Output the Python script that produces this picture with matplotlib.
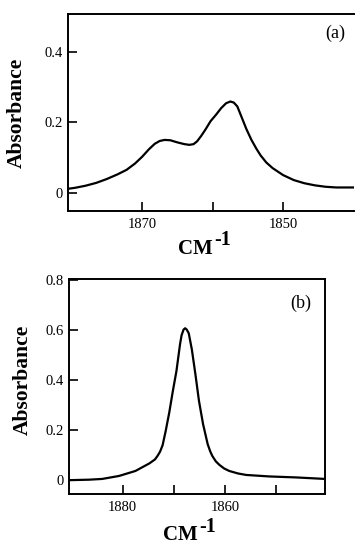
import matplotlib
matplotlib.use("Agg")
import matplotlib.pyplot as plt
from matplotlib.ticker import FixedLocator, NullFormatter

plt.rcParams['font.family'] = ['Liberation Serif', 'DejaVu Serif']

# panel (a) spectrum
wn_a = [1880.6, 1879.5, 1878.0, 1876.5, 1875.0, 1873.5, 1872.2, 1871.0, 1870.0,
        1869.0, 1868.2, 1867.5, 1866.8, 1866.0, 1865.0, 1864.0, 1863.3, 1862.7,
        1862.2, 1861.6, 1861.0, 1860.3, 1859.5, 1858.8, 1858.1, 1857.5, 1857.0,
        1856.5, 1856.0, 1855.2, 1854.5, 1853.8, 1853.2, 1852.4, 1851.5, 1850.0,
        1848.5, 1847.0, 1845.5, 1844.0, 1842.5, 1840.0]
abs_a = [0.011, 0.014, 0.020, 0.028, 0.039, 0.052, 0.065, 0.083, 0.102,
         0.124, 0.139, 0.147, 0.150, 0.149, 0.143, 0.138, 0.136, 0.138,
         0.146, 0.162, 0.180, 0.203, 0.222, 0.240, 0.254, 0.259, 0.256,
         0.245, 0.220, 0.180, 0.150, 0.125, 0.106, 0.086, 0.070, 0.050,
         0.036, 0.027, 0.021, 0.017, 0.015, 0.015]

# panel (b) spectrum
wn_b = [1890.5, 1886.6, 1884.0, 1880.7, 1877.5, 1874.8, 1873.7, 1873.2, 1872.7,
        1872.2, 1871.6, 1870.9, 1870.2, 1869.5, 1868.8, 1868.5, 1868.1, 1867.8,
        1867.5, 1867.1, 1866.5, 1865.8, 1865.1, 1864.3, 1863.4, 1862.9, 1862.5,
        1861.8, 1861.1, 1860.2, 1859.2, 1857.5, 1855.9, 1851.4, 1846.1, 1840.5]
abs_b = [0.000, 0.002, 0.005, 0.017, 0.037, 0.067, 0.083, 0.097, 0.114,
         0.140, 0.197, 0.271, 0.357, 0.437, 0.544, 0.580, 0.603, 0.608,
         0.603, 0.588, 0.524, 0.424, 0.317, 0.224, 0.144, 0.115, 0.097,
         0.075, 0.061, 0.047, 0.037, 0.027, 0.021, 0.015, 0.011, 0.005]

xmaj_a = [1870, 1850]
xmin_a = [1860]
yt_a = [0, 0.2, 0.4]
ylab_a = ['0', '0.2', '0.4']

xmaj_b = [1880, 1860]
xmin_b = [1870, 1850]
yt_b = [0, 0.2, 0.4, 0.6, 0.8]
ylab_b = ['0', '0.2', '0.4', '0.6', '0.8']

fig = plt.figure(figsize=(3.55, 5.44), dpi=100)
ax1 = fig.add_axes([0.1915, 0.612, 0.805, 0.362])
ax2 = fig.add_axes([0.194, 0.0925, 0.7215, 0.395])


def style(ax, xmaj, xmin, yt, ylab, xlim, ylim):
    ax.set_xlim(*xlim)
    ax.set_ylim(*ylim)
    ax.xaxis.set_major_locator(FixedLocator(xmaj))
    ax.xaxis.set_minor_locator(FixedLocator(xmin))
    ax.xaxis.set_minor_formatter(NullFormatter())
    ax.set_yticks(yt)
    ax.set_yticklabels(ylab)
    ax.tick_params(which='both', direction='in', length=6.5, width=1.2,
                   labelsize=10.5, pad=4)
    ax.tick_params(axis='x', pad=5)
    for s in ax.spines.values():
        s.set_linewidth(1.4)
    ax.set_ylabel('Absorbance', fontsize=15.5, fontweight='bold')


ax1.plot(wn_a, abs_a, color='black', lw=1.6)
style(ax1, xmaj_a, xmin_a, yt_a, ylab_a, (1880.5, 1840.0), (-0.052, 0.507))
ax1.spines['right'].set_visible(False)
ax1.yaxis.set_label_coords(-0.143, 0.5)
ax1.text(0.934, 0.9, '(a)', transform=ax1.transAxes, fontsize=13,
         ha='center', va='center')

ax2.plot(wn_b, abs_b, color='black', lw=1.6)
style(ax2, xmaj_b, xmin_b, yt_b, ylab_b, (1890.5, 1840.5), (-0.054, 0.806))
ax2.yaxis.set_label_coords(-0.14, 0.53)
ax2.text(0.906, 0.887, '(b)', transform=ax2.transAxes, fontsize=13,
         ha='center', va='center')

# x axis labels: CM with raised -1
fig.text(178 / 355, 1 - 254 / 544, 'CM', fontsize=15, fontweight='bold',
         ha='left', va='baseline')
fig.text(214 / 355, 1 - 245 / 544, '-1', fontsize=14.5, fontweight='bold',
         ha='left', va='baseline')
fig.text(163 / 355, 1 - 540 / 544, 'CM', fontsize=15, fontweight='bold',
         ha='left', va='baseline')
fig.text(199 / 355, 1 - 532 / 544, '-1', fontsize=14.5, fontweight='bold',
         ha='left', va='baseline')

fig.savefig('out.png', dpi=100)
